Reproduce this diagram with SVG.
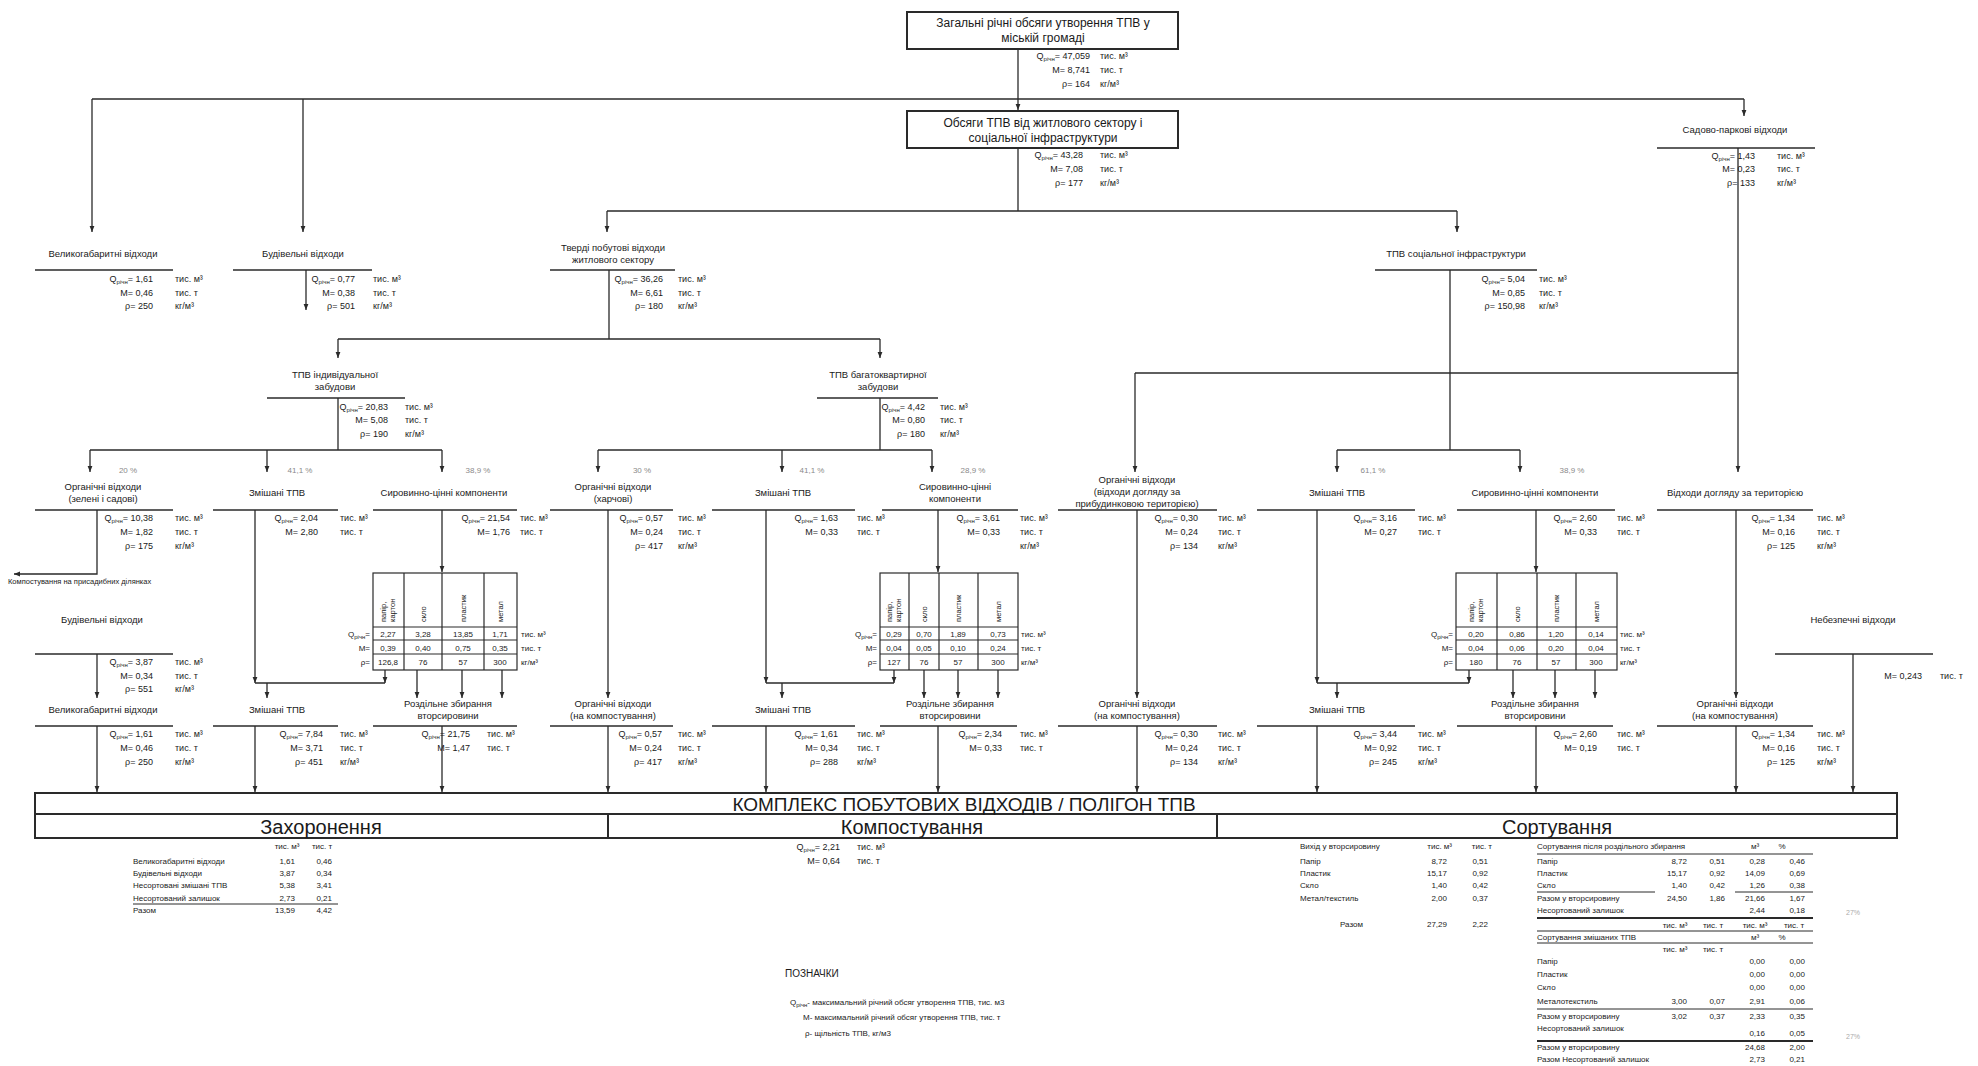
<svg xmlns="http://www.w3.org/2000/svg" width="1978" height="1066" viewBox="0 0 1978 1066">
<style>
text{font-family:'Liberation Sans',Arial,sans-serif;fill:#1a1a1a}
.l{font-size:9.5px;text-anchor:middle}
.s{font-size:9px;text-anchor:end}
.u{font-size:9px}
.sb{font-size:6px}
.p{font-size:8px;fill:#8a8a8a;text-anchor:middle}
.t{font-size:8px;text-anchor:middle}
.th{font-size:7.5px}
.b{font-size:12px;text-anchor:middle}
.c{fill:none;stroke:#2a2a2a;stroke-width:1.3}
.a{marker-end:url(#ar)}
.ul{stroke:#2a2a2a;stroke-width:1.5}
.bx{fill:#fff;stroke:#2a2a2a;stroke-width:2}
.tb{fill:none;stroke:#2a2a2a;stroke-width:1.2}
.k{font-size:8px}
.ke{font-size:8px;text-anchor:end}
.km{font-size:8px;text-anchor:middle}
.big{font-size:19px;text-anchor:middle}
.sec{font-size:20px;text-anchor:middle}
.g{font-size:7px;fill:#aaa;text-anchor:middle}
</style>
<defs>
<marker id="ar" markerWidth="6" markerHeight="6" refX="6" refY="3" orient="auto" markerUnits="userSpaceOnUse"><path d="M0,0.6 L6,3 L0,5.4 z" fill="#2a2a2a"/></marker>
</defs>
<rect width="1978" height="1066" fill="#fff"/>

<g id="connectors">
<path class="c a" d="M1018,49 V110"/>
<path class="c" d="M92,99 H1744"/>
<path class="c a" d="M92,99 V232"/>
<path class="c a" d="M303,99 V232"/>
<path class="c a" d="M1744,99 V116"/>
<path class="c" d="M1018,148 V211 M607,211 H1457"/>
<path class="c a" d="M607,211 V232"/>
<path class="c a" d="M1457,211 V232"/>
<path class="c a" d="M306,270 V310"/>
<path class="c" d="M609,270 V339 M338,339 H880"/>
<path class="c a" d="M338,339 V358"/>
<path class="c a" d="M880,339 V358"/>
<path class="c" d="M338,398 V450 M90,450 H442"/>
<path class="c a" d="M90,450 V472"/>
<path class="c a" d="M267,450 V472"/>
<path class="c a" d="M442,450 V472"/>
<path class="c" d="M880,398 V450 M598,450 H932"/>
<path class="c a" d="M598,450 V472"/>
<path class="c a" d="M782,450 V472"/>
<path class="c a" d="M932,450 V472"/>
<path class="c" d="M1450,270 V450 M1337,450 H1520"/>
<path class="c a" d="M1337,450 V472"/>
<path class="c a" d="M1520,450 V472"/>
<path class="c" d="M1135,373 H1738" />
<path class="c a" d="M1738,148 V472"/>
<path class="c a" d="M1135,373 V472"/>
<path class="c a" d="M97,510 V574 H14"/>
<path class="c a" d="M255,510 V683"/>
<path class="c" d="M255,683 H385"/>
<path class="c a" d="M385,670 V683"/>
<path class="c a" d="M267,683 V698"/>
<path class="c a" d="M442,510 V572"/>
<path class="c a" d="M417,670 V698"/>
<path class="c a" d="M462,670 V698"/>
<path class="c a" d="M502,670 V698"/>
<path class="c a" d="M608,510 V698"/>
<path class="c a" d="M766,510 V683"/>
<path class="c" d="M766,683 H894"/>
<path class="c a" d="M894,670 V683"/>
<path class="c a" d="M782,683 V698"/>
<path class="c a" d="M938,510 V572"/>
<path class="c a" d="M924,670 V698"/>
<path class="c a" d="M958,670 V698"/>
<path class="c a" d="M998,670 V698"/>
<path class="c a" d="M1137,510 V698"/>
<path class="c a" d="M1317,510 V683"/>
<path class="c" d="M1317,683 H1469"/>
<path class="c a" d="M1469,670 V683"/>
<path class="c a" d="M1337,683 V698"/>
<path class="c a" d="M1536,510 V572"/>
<path class="c a" d="M1513,670 V698"/>
<path class="c a" d="M1555,670 V698"/>
<path class="c a" d="M1595,670 V698"/>
<path class="c a" d="M1736,510 V698"/>
<path class="c a" d="M97,654 V698"/>
<path class="c a" d="M97,726 V792"/>
<path class="c a" d="M255,726 V792"/>
<path class="c a" d="M442,726 V792"/>
<path class="c a" d="M608,726 V792"/>
<path class="c a" d="M766,726 V792"/>
<path class="c a" d="M938,726 V792"/>
<path class="c a" d="M1137,726 V792"/>
<path class="c a" d="M1317,726 V792"/>
<path class="c a" d="M1536,726 V792"/>
<path class="c a" d="M1736,726 V792"/>
<path class="c a" d="M1853,654 V792"/>
</g>

<g id="box1">
<rect class="bx" x="907" y="12" width="271" height="37"/>
<text class="b" x="1043" y="27">Загальні річні обсяги утворення ТПВ у</text>
<text class="b" x="1043" y="42">міській громаді</text>
<text class="s" x="1090" y="59">Q<tspan class="sb" dy="2">річн</tspan><tspan dy="-2">= 47,059</tspan></text><text class="u" x="1100" y="59">тис. м³</text>
<text class="s" x="1090" y="73">M= 8,741</text><text class="u" x="1100" y="73">тис. т</text>
<text class="s" x="1090" y="87">ρ= 164</text><text class="u" x="1100" y="87">кг/м³</text>
</g>

<g id="box2">
<rect class="bx" x="907" y="111" width="271" height="37"/>
<text class="b" x="1043" y="127">Обсяги ТПВ від житлового сектору і</text>
<text class="b" x="1043" y="142">соціальної інфраструктури</text>
<text class="s" x="1083" y="158">Q<tspan class="sb" dy="2">річн</tspan><tspan dy="-2">= 43,28</tspan></text><text class="u" x="1100" y="158">тис. м³</text>
<text class="s" x="1083" y="172">M= 7,08</text><text class="u" x="1100" y="172">тис. т</text>
<text class="s" x="1083" y="186">ρ= 177</text><text class="u" x="1100" y="186">кг/м³</text>
</g>

<g id="n-velyko-top">
<text class="l" x="103" y="257">Великогабаритні відходи</text>
<line class="ul" x1="35" y1="270" x2="173" y2="270"/>
<text class="s" x="153" y="282">Q<tspan class="sb" dy="2">річн</tspan><tspan dy="-2">= 1,61</tspan></text><text class="u" x="175" y="282">тис. м³</text>
<text class="s" x="153" y="296">M= 0,46</text><text class="u" x="175" y="296">тис. т</text>
<text class="s" x="153" y="309">ρ= 250</text><text class="u" x="175" y="309">кг/м³</text>
</g>

<g id="n-budiv-top">
<text class="l" x="303" y="257">Будівельні відходи</text>
<line class="ul" x1="233" y1="270" x2="372" y2="270"/>
<text class="s" x="355" y="282">Q<tspan class="sb" dy="2">річн</tspan><tspan dy="-2">= 0,77</tspan></text><text class="u" x="373" y="282">тис. м³</text>
<text class="s" x="355" y="296">M= 0,38</text><text class="u" x="373" y="296">тис. т</text>
<text class="s" x="355" y="309">ρ= 501</text><text class="u" x="373" y="309">кг/м³</text>
</g>

<g id="n-tpv-zhytl">
<text class="l" x="613" y="251">Тверді побутові відходи</text>
<text class="l" x="613" y="263">житлового сектору</text>
<line class="ul" x1="550" y1="270" x2="675" y2="270"/>
<text class="s" x="663" y="282">Q<tspan class="sb" dy="2">річн</tspan><tspan dy="-2">= 36,26</tspan></text><text class="u" x="678" y="282">тис. м³</text>
<text class="s" x="663" y="296">M= 6,61</text><text class="u" x="678" y="296">тис. т</text>
<text class="s" x="663" y="309">ρ= 180</text><text class="u" x="678" y="309">кг/м³</text>
</g>

<g id="n-tpv-soc">
<text class="l" x="1456" y="257">ТПВ соціальної інфраструктури</text>
<line class="ul" x1="1375" y1="270" x2="1537" y2="270"/>
<text class="s" x="1525" y="282">Q<tspan class="sb" dy="2">річн</tspan><tspan dy="-2">= 5,04</tspan></text><text class="u" x="1539" y="282">тис. м³</text>
<text class="s" x="1525" y="296">M= 0,85</text><text class="u" x="1539" y="296">тис. т</text>
<text class="s" x="1525" y="309">ρ= 150,98</text><text class="u" x="1539" y="309">кг/м³</text>
</g>

<g id="n-sadovo">
<text class="l" x="1735" y="133">Садово-паркові відходи</text>
<line class="ul" x1="1657" y1="148" x2="1815" y2="148"/>
<text class="s" x="1755" y="159">Q<tspan class="sb" dy="2">річн</tspan><tspan dy="-2">= 1,43</tspan></text><text class="u" x="1777" y="159">тис. м³</text>
<text class="s" x="1755" y="172">M= 0,23</text><text class="u" x="1777" y="172">тис. т</text>
<text class="s" x="1755" y="186">ρ= 133</text><text class="u" x="1777" y="186">кг/м³</text>
</g>

<g id="n-indiv">
<text class="l" x="335" y="378">ТПВ індивідуальної</text>
<text class="l" x="335" y="390">забудови</text>
<line class="ul" x1="267" y1="398" x2="405" y2="398"/>
<text class="s" x="388" y="410">Q<tspan class="sb" dy="2">річн</tspan><tspan dy="-2">= 20,83</tspan></text><text class="u" x="405" y="410">тис. м³</text>
<text class="s" x="388" y="423">M= 5,08</text><text class="u" x="405" y="423">тис. т</text>
<text class="s" x="388" y="437">ρ= 190</text><text class="u" x="405" y="437">кг/м³</text>
</g>

<g id="n-bagato">
<text class="l" x="878" y="378">ТПВ багатоквартирної</text>
<text class="l" x="878" y="390">забудови</text>
<line class="ul" x1="817" y1="398" x2="938" y2="398"/>
<text class="s" x="925" y="410">Q<tspan class="sb" dy="2">річн</tspan><tspan dy="-2">= 4,42</tspan></text><text class="u" x="940" y="410">тис. м³</text>
<text class="s" x="925" y="423">M= 0,80</text><text class="u" x="940" y="423">тис. т</text>
<text class="s" x="925" y="437">ρ= 180</text><text class="u" x="940" y="437">кг/м³</text>
</g>

<g id="percents">
<text class="p" x="128" y="473">20 %</text>
<text class="p" x="300" y="473">41,1 %</text>
<text class="p" x="478" y="473">38,9 %</text>
<text class="p" x="642" y="473">30 %</text>
<text class="p" x="812" y="473">41,1 %</text>
<text class="p" x="973" y="473">28,9 %</text>
<text class="p" x="1373" y="473">61,1 %</text>
<text class="p" x="1572" y="473">38,9 %</text>
</g>

<g id="n-org-zel">
<text class="l" x="103" y="490">Органічні відходи</text>
<text class="l" x="103" y="502">(зелені і садові)</text>
<line class="ul" x1="35" y1="510" x2="173" y2="510"/>
<text class="s" x="153" y="521">Q<tspan class="sb" dy="2">річн</tspan><tspan dy="-2">= 10,38</tspan></text><text class="u" x="175" y="521">тис. м³</text>
<text class="s" x="153" y="535">M= 1,82</text><text class="u" x="175" y="535">тис. т</text>
<text class="s" x="153" y="549">ρ= 175</text><text class="u" x="175" y="549">кг/м³</text>
<text x="8" y="584" style="font-size:7.5px">Компостування на присадибних ділянках</text>
</g>

<g id="n-zm1">
<text class="l" x="277" y="496">Змішані ТПВ</text>
<line class="ul" x1="213" y1="510" x2="338" y2="510"/>
<text class="s" x="318" y="521">Q<tspan class="sb" dy="2">річн</tspan><tspan dy="-2">= 2,04</tspan></text><text class="u" x="340" y="521">тис. м³</text>
<text class="s" x="318" y="535">M= 2,80</text><text class="u" x="340" y="535">тис. т</text>
</g>

<g id="n-syr1">
<text class="l" x="444" y="496">Сировинно-цінні компоненти</text>
<line class="ul" x1="373" y1="510" x2="517" y2="510"/>
<text class="s" x="510" y="521">Q<tspan class="sb" dy="2">річн</tspan><tspan dy="-2">= 21,54</tspan></text><text class="u" x="520" y="521">тис. м³</text>
<text class="s" x="510" y="535">M= 1,76</text><text class="u" x="520" y="535">тис. т</text>
</g>

<g id="n-org-harch">
<text class="l" x="613" y="490">Органічні відходи</text>
<text class="l" x="613" y="502">(харчові)</text>
<line class="ul" x1="550" y1="510" x2="673" y2="510"/>
<text class="s" x="663" y="521">Q<tspan class="sb" dy="2">річн</tspan><tspan dy="-2">= 0,57</tspan></text><text class="u" x="678" y="521">тис. м³</text>
<text class="s" x="663" y="535">M= 0,24</text><text class="u" x="678" y="535">тис. т</text>
<text class="s" x="663" y="549">ρ= 417</text><text class="u" x="678" y="549">кг/м³</text>
</g>

<g id="n-zm2">
<text class="l" x="783" y="496">Змішані ТПВ</text>
<line class="ul" x1="712" y1="510" x2="855" y2="510"/>
<text class="s" x="838" y="521">Q<tspan class="sb" dy="2">річн</tspan><tspan dy="-2">= 1,63</tspan></text><text class="u" x="857" y="521">тис. м³</text>
<text class="s" x="838" y="535">M= 0,33</text><text class="u" x="857" y="535">тис. т</text>
</g>

<g id="n-syr2">
<text class="l" x="955" y="490">Сировинно-цінні</text>
<text class="l" x="955" y="502">компоненти</text>
<line class="ul" x1="882" y1="510" x2="1018" y2="510"/>
<text class="s" x="1000" y="521">Q<tspan class="sb" dy="2">річн</tspan><tspan dy="-2">= 3,61</tspan></text><text class="u" x="1020" y="521">тис. м³</text>
<text class="s" x="1000" y="535">M= 0,33</text><text class="u" x="1020" y="535">тис. т</text>
<text class="u" x="1020" y="549">кг/м³</text>
</g>

<g id="n-org-dog">
<text class="l" x="1137" y="483">Органічні відходи</text>
<text class="l" x="1137" y="495">(відходи догляду за</text>
<text class="l" x="1137" y="507">прибудинковою територією)</text>
<line class="ul" x1="1058" y1="510" x2="1217" y2="510"/>
<text class="s" x="1198" y="521">Q<tspan class="sb" dy="2">річн</tspan><tspan dy="-2">= 0,30</tspan></text><text class="u" x="1218" y="521">тис. м³</text>
<text class="s" x="1198" y="535">M= 0,24</text><text class="u" x="1218" y="535">тис. т</text>
<text class="s" x="1198" y="549">ρ= 134</text><text class="u" x="1218" y="549">кг/м³</text>
</g>

<g id="n-zm3">
<text class="l" x="1337" y="496">Змішані ТПВ</text>
<line class="ul" x1="1257" y1="510" x2="1415" y2="510"/>
<text class="s" x="1397" y="521">Q<tspan class="sb" dy="2">річн</tspan><tspan dy="-2">= 3,16</tspan></text><text class="u" x="1418" y="521">тис. м³</text>
<text class="s" x="1397" y="535">M= 0,27</text><text class="u" x="1418" y="535">тис. т</text>
</g>

<g id="n-syr3">
<text class="l" x="1535" y="496">Сировинно-цінні компоненти</text>
<line class="ul" x1="1457" y1="510" x2="1615" y2="510"/>
<text class="s" x="1597" y="521">Q<tspan class="sb" dy="2">річн</tspan><tspan dy="-2">= 2,60</tspan></text><text class="u" x="1617" y="521">тис. м³</text>
<text class="s" x="1597" y="535">M= 0,33</text><text class="u" x="1617" y="535">тис. т</text>
</g>

<g id="n-vidkh-dog">
<text class="l" x="1735" y="496">Відходи догляду за територією</text>
<line class="ul" x1="1657" y1="510" x2="1813" y2="510"/>
<text class="s" x="1795" y="521">Q<tspan class="sb" dy="2">річн</tspan><tspan dy="-2">= 1,34</tspan></text><text class="u" x="1817" y="521">тис. м³</text>
<text class="s" x="1795" y="535">M= 0,16</text><text class="u" x="1817" y="535">тис. т</text>
<text class="s" x="1795" y="549">ρ= 125</text><text class="u" x="1817" y="549">кг/м³</text>
</g>

<g id="table1">
<rect class="tb" x="373" y="573" width="144" height="97"/>
<path class="tb" d="M373,627 H517 M373,640 H517 M373,654 H517 M404,573 V670 M442,573 V670 M484,573 V670"/>
<text class="th" transform="translate(386,622) rotate(-90)">папір,</text>
<text class="th" transform="translate(395,622) rotate(-90)">картон</text>
<text class="th" transform="translate(426,622) rotate(-90)">скло</text>
<text class="th" transform="translate(466,622) rotate(-90)">пластик</text>
<text class="th" transform="translate(503,622) rotate(-90)">метал</text>
<text class="s" x="370" y="637" style="font-size:8px">Q<tspan class="sb" dy="2">річн</tspan><tspan dy="-2">=</tspan></text>
<text class="s" x="370" y="651" style="font-size:8px">M=</text>
<text class="s" x="370" y="665" style="font-size:8px">ρ=</text>
<text class="t" x="388" y="637">2,27</text><text class="t" x="423" y="637">3,28</text><text class="t" x="463" y="637">13,85</text><text class="t" x="500" y="637">1,71</text>
<text class="t" x="388" y="651">0,39</text><text class="t" x="423" y="651">0,40</text><text class="t" x="463" y="651">0,75</text><text class="t" x="500" y="651">0,35</text>
<text class="t" x="388" y="665">126,8</text><text class="t" x="423" y="665">76</text><text class="t" x="463" y="665">57</text><text class="t" x="500" y="665">300</text>
<text class="k" x="521" y="637">тис. м³</text><text class="k" x="521" y="651">тис. т</text><text class="k" x="521" y="665">кг/м³</text>
</g>

<g id="table2">
<rect class="tb" x="880" y="573" width="138" height="97"/>
<path class="tb" d="M880,627 H1018 M880,640 H1018 M880,654 H1018 M909,573 V670 M939,573 V670 M978,573 V670"/>
<text class="th" transform="translate(892,622) rotate(-90)">папір,</text>
<text class="th" transform="translate(901,622) rotate(-90)">картон</text>
<text class="th" transform="translate(927,622) rotate(-90)">скло</text>
<text class="th" transform="translate(961,622) rotate(-90)">пластик</text>
<text class="th" transform="translate(1001,622) rotate(-90)">метал</text>
<text class="s" x="877" y="637" style="font-size:8px">Q<tspan class="sb" dy="2">річн</tspan><tspan dy="-2">=</tspan></text>
<text class="s" x="877" y="651" style="font-size:8px">M=</text>
<text class="s" x="877" y="665" style="font-size:8px">ρ=</text>
<text class="t" x="894" y="637">0,29</text><text class="t" x="924" y="637">0,70</text><text class="t" x="958" y="637">1,89</text><text class="t" x="998" y="637">0,73</text>
<text class="t" x="894" y="651">0,04</text><text class="t" x="924" y="651">0,05</text><text class="t" x="958" y="651">0,10</text><text class="t" x="998" y="651">0,24</text>
<text class="t" x="894" y="665">127</text><text class="t" x="924" y="665">76</text><text class="t" x="958" y="665">57</text><text class="t" x="998" y="665">300</text>
<text class="k" x="1021" y="637">тис. м³</text><text class="k" x="1021" y="651">тис. т</text><text class="k" x="1021" y="665">кг/м³</text>
</g>

<g id="table3">
<rect class="tb" x="1456" y="573" width="161" height="97"/>
<path class="tb" d="M1456,627 H1617 M1456,640 H1617 M1456,654 H1617 M1497,573 V670 M1537,573 V670 M1576,573 V670"/>
<text class="th" transform="translate(1474,622) rotate(-90)">папір,</text>
<text class="th" transform="translate(1483,622) rotate(-90)">картон</text>
<text class="th" transform="translate(1520,622) rotate(-90)">скло</text>
<text class="th" transform="translate(1559,622) rotate(-90)">пластик</text>
<text class="th" transform="translate(1599,622) rotate(-90)">метал</text>
<text class="s" x="1453" y="637" style="font-size:8px">Q<tspan class="sb" dy="2">річн</tspan><tspan dy="-2">=</tspan></text>
<text class="s" x="1453" y="651" style="font-size:8px">M=</text>
<text class="s" x="1453" y="665" style="font-size:8px">ρ=</text>
<text class="t" x="1476" y="637">0,20</text><text class="t" x="1517" y="637">0,86</text><text class="t" x="1556" y="637">1,20</text><text class="t" x="1596" y="637">0,14</text>
<text class="t" x="1476" y="651">0,04</text><text class="t" x="1517" y="651">0,06</text><text class="t" x="1556" y="651">0,20</text><text class="t" x="1596" y="651">0,04</text>
<text class="t" x="1476" y="665">180</text><text class="t" x="1517" y="665">76</text><text class="t" x="1556" y="665">57</text><text class="t" x="1596" y="665">300</text>
<text class="k" x="1620" y="637">тис. м³</text><text class="k" x="1620" y="651">тис. т</text><text class="k" x="1620" y="665">кг/м³</text>
</g>

<g id="n-budiv2">
<text class="l" x="102" y="623">Будівельні відходи</text>
<line class="ul" x1="35" y1="654" x2="173" y2="654"/>
<text class="s" x="153" y="665">Q<tspan class="sb" dy="2">річн</tspan><tspan dy="-2">= 3,87</tspan></text><text class="u" x="175" y="665">тис. м³</text>
<text class="s" x="153" y="679">M= 0,34</text><text class="u" x="175" y="679">тис. т</text>
<text class="s" x="153" y="692">ρ= 551</text><text class="u" x="175" y="692">кг/м³</text>
</g>

<g id="n-nebezp">
<text class="l" x="1853" y="623">Небезпечні відходи</text>
<line class="ul" x1="1775" y1="654" x2="1933" y2="654"/>
<text class="s" x="1922" y="679">M= 0,243</text><text class="u" x="1940" y="679">тис. т</text>
</g>

<g id="n-velyko2">
<text class="l" x="103" y="713">Великогабаритні відходи</text>
<line class="ul" x1="35" y1="726" x2="173" y2="726"/>
<text class="s" x="153" y="737">Q<tspan class="sb" dy="2">річн</tspan><tspan dy="-2">= 1,61</tspan></text><text class="u" x="175" y="737">тис. м³</text>
<text class="s" x="153" y="751">M= 0,46</text><text class="u" x="175" y="751">тис. т</text>
<text class="s" x="153" y="765">ρ= 250</text><text class="u" x="175" y="765">кг/м³</text>
</g>

<g id="n-zm1b">
<text class="l" x="277" y="713">Змішані ТПВ</text>
<line class="ul" x1="213" y1="726" x2="338" y2="726"/>
<text class="s" x="323" y="737">Q<tspan class="sb" dy="2">річн</tspan><tspan dy="-2">= 7,84</tspan></text><text class="u" x="340" y="737">тис. м³</text>
<text class="s" x="323" y="751">M= 3,71</text><text class="u" x="340" y="751">тис. т</text>
<text class="s" x="323" y="765">ρ= 451</text><text class="u" x="340" y="765">кг/м³</text>
</g>

<g id="n-rozd1">
<text class="l" x="448" y="707">Роздільне збирання</text>
<text class="l" x="448" y="719">вторсировини</text>
<line class="ul" x1="373" y1="726" x2="517" y2="726"/>
<text class="s" x="470" y="737">Q<tspan class="sb" dy="2">річн</tspan><tspan dy="-2">= 21,75</tspan></text><text class="u" x="487" y="737">тис. м³</text>
<text class="s" x="470" y="751">M= 1,47</text><text class="u" x="487" y="751">тис. т</text>
</g>

<g id="n-org2b">
<text class="l" x="613" y="707">Органічні відходи</text>
<text class="l" x="613" y="719">(на компостування)</text>
<line class="ul" x1="550" y1="726" x2="673" y2="726"/>
<text class="s" x="662" y="737">Q<tspan class="sb" dy="2">річн</tspan><tspan dy="-2">= 0,57</tspan></text><text class="u" x="678" y="737">тис. м³</text>
<text class="s" x="662" y="751">M= 0,24</text><text class="u" x="678" y="751">тис. т</text>
<text class="s" x="662" y="765">ρ= 417</text><text class="u" x="678" y="765">кг/м³</text>
</g>

<g id="n-zm2b">
<text class="l" x="783" y="713">Змішані ТПВ</text>
<line class="ul" x1="712" y1="726" x2="855" y2="726"/>
<text class="s" x="838" y="737">Q<tspan class="sb" dy="2">річн</tspan><tspan dy="-2">= 1,61</tspan></text><text class="u" x="857" y="737">тис. м³</text>
<text class="s" x="838" y="751">M= 0,34</text><text class="u" x="857" y="751">тис. т</text>
<text class="s" x="838" y="765">ρ= 288</text><text class="u" x="857" y="765">кг/м³</text>
</g>

<g id="n-rozd2">
<text class="l" x="950" y="707">Роздільне збирання</text>
<text class="l" x="950" y="719">вторсировини</text>
<line class="ul" x1="880" y1="726" x2="1017" y2="726"/>
<text class="s" x="1002" y="737">Q<tspan class="sb" dy="2">річн</tspan><tspan dy="-2">= 2,34</tspan></text><text class="u" x="1020" y="737">тис. м³</text>
<text class="s" x="1002" y="751">M= 0,33</text><text class="u" x="1020" y="751">тис. т</text>
</g>

<g id="n-org3b">
<text class="l" x="1137" y="707">Органічні відходи</text>
<text class="l" x="1137" y="719">(на компостування)</text>
<line class="ul" x1="1058" y1="726" x2="1217" y2="726"/>
<text class="s" x="1198" y="737">Q<tspan class="sb" dy="2">річн</tspan><tspan dy="-2">= 0,30</tspan></text><text class="u" x="1218" y="737">тис. м³</text>
<text class="s" x="1198" y="751">M= 0,24</text><text class="u" x="1218" y="751">тис. т</text>
<text class="s" x="1198" y="765">ρ= 134</text><text class="u" x="1218" y="765">кг/м³</text>
</g>

<g id="n-zm3b">
<text class="l" x="1337" y="713">Змішані ТПВ</text>
<line class="ul" x1="1257" y1="726" x2="1415" y2="726"/>
<text class="s" x="1397" y="737">Q<tspan class="sb" dy="2">річн</tspan><tspan dy="-2">= 3,44</tspan></text><text class="u" x="1418" y="737">тис. м³</text>
<text class="s" x="1397" y="751">M= 0,92</text><text class="u" x="1418" y="751">тис. т</text>
<text class="s" x="1397" y="765">ρ= 245</text><text class="u" x="1418" y="765">кг/м³</text>
</g>

<g id="n-rozd3">
<text class="l" x="1535" y="707">Роздільне збирання</text>
<text class="l" x="1535" y="719">вторсировини</text>
<line class="ul" x1="1457" y1="726" x2="1613" y2="726"/>
<text class="s" x="1597" y="737">Q<tspan class="sb" dy="2">річн</tspan><tspan dy="-2">= 2,60</tspan></text><text class="u" x="1617" y="737">тис. м³</text>
<text class="s" x="1597" y="751">M= 0,19</text><text class="u" x="1617" y="751">тис. т</text>
</g>

<g id="n-org4b">
<text class="l" x="1735" y="707">Органічні відходи</text>
<text class="l" x="1735" y="719">(на компостування)</text>
<line class="ul" x1="1657" y1="726" x2="1813" y2="726"/>
<text class="s" x="1795" y="737">Q<tspan class="sb" dy="2">річн</tspan><tspan dy="-2">= 1,34</tspan></text><text class="u" x="1817" y="737">тис. м³</text>
<text class="s" x="1795" y="751">M= 0,16</text><text class="u" x="1817" y="751">тис. т</text>
<text class="s" x="1795" y="765">ρ= 125</text><text class="u" x="1817" y="765">кг/м³</text>
</g>

<g id="complex">
<rect x="35" y="793" width="1862" height="45" fill="#fff" stroke="#2a2a2a" stroke-width="2"/>
<path d="M35,814 H1897 M608,814 V838 M1217,814 V838" stroke="#2a2a2a" stroke-width="2" fill="none"/>
<text class="big" x="964" y="811">КОМПЛЕКС ПОБУТОВИХ ВІДХОДІВ / ПОЛІГОН ТПВ</text>
<text class="sec" x="321" y="834">Захоронення</text>
<text class="sec" x="912" y="834">Компостування</text>
<text class="sec" x="1557" y="834">Сортування</text>
</g>

<g id="zakhoronennia">
<text class="km" x="287" y="849">тис. м³</text><text class="km" x="322" y="849">тис. т</text>
<text class="k" x="133" y="864">Великогабаритні відходи</text><text class="ke" x="295" y="864">1,61</text><text class="ke" x="332" y="864">0,46</text>
<text class="k" x="133" y="876">Будівельні відходи</text><text class="ke" x="295" y="876">3,87</text><text class="ke" x="332" y="876">0,34</text>
<text class="k" x="133" y="888">Несортовані змішані ТПВ</text><text class="ke" x="295" y="888">5,38</text><text class="ke" x="332" y="888">3,41</text>
<text class="k" x="133" y="901">Несортований залишок</text><text class="ke" x="295" y="901">2,73</text><text class="ke" x="332" y="901">0,21</text>
<line x1="133" y1="904" x2="338" y2="904" stroke="#2a2a2a" stroke-width="1"/>
<text class="k" x="133" y="913">Разом</text><text class="ke" x="295" y="913">13,59</text><text class="ke" x="332" y="913">4,42</text>
</g>

<g id="kompost">
<text class="s" x="840" y="850">Q<tspan class="sb" dy="2">річн</tspan><tspan dy="-2">= 2,21</tspan></text><text class="u" x="857" y="850">тис. м³</text>
<text class="s" x="840" y="864">M= 0,64</text><text class="u" x="857" y="864">тис. т</text>
</g>

<g id="legend">
<text x="785" y="977" style="font-size:10px">ПОЗНАЧКИ</text>
<text class="k" x="790" y="1005">Q<tspan class="sb" dy="2">річн</tspan><tspan dy="-2">- максимальний річний обсяг утворення ТПВ, тис. м3</tspan></text>
<text class="k" x="803" y="1020">M- максимальний річний обсяг утворення ТПВ, тис. т</text>
<text class="k" x="805" y="1036">ρ- щільність ТПВ, кг/м3</text>
</g>

<g id="sort-left">
<text class="k" x="1300" y="849">Вихід у вторсировину</text><text class="ke" x="1452" y="849">тис. м³</text><text class="ke" x="1492" y="849">тис. т</text>
<text class="k" x="1300" y="864">Папір</text><text class="ke" x="1447" y="864">8,72</text><text class="ke" x="1488" y="864">0,51</text>
<text class="k" x="1300" y="876">Пластик</text><text class="ke" x="1447" y="876">15,17</text><text class="ke" x="1488" y="876">0,92</text>
<text class="k" x="1300" y="888">Скло</text><text class="ke" x="1447" y="888">1,40</text><text class="ke" x="1488" y="888">0,42</text>
<text class="k" x="1300" y="901">Метал/текстиль</text><text class="ke" x="1447" y="901">2,00</text><text class="ke" x="1488" y="901">0,37</text>
<text class="k" x="1340" y="927">Разом</text><text class="ke" x="1447" y="927">27,29</text><text class="ke" x="1488" y="927">2,22</text>
</g>

<g id="sort-right">
<text class="k" x="1537" y="849">Сортування після роздільного збирання</text><text class="km" x="1755" y="849">м³</text><text class="km" x="1782" y="849">%</text>
<path d="M1537,854 H1813 M1537,892 H1655 M1735,892 H1813 M1537,931 H1813 M1537,943 H1813 M1537,1009 H1813" stroke="#2a2a2a" stroke-width="1" fill="none"/>
<path d="M1537,918 H1813 M1537,1041 H1813" stroke="#2a2a2a" stroke-width="2" fill="none"/>
<text class="k" x="1537" y="864">Папір</text><text class="ke" x="1687" y="864">8,72</text><text class="ke" x="1725" y="864">0,51</text><text class="ke" x="1765" y="864">0,28</text><text class="ke" x="1805" y="864">0,46</text>
<text class="k" x="1537" y="876">Пластик</text><text class="ke" x="1687" y="876">15,17</text><text class="ke" x="1725" y="876">0,92</text><text class="ke" x="1765" y="876">14,09</text><text class="ke" x="1805" y="876">0,69</text>
<text class="k" x="1537" y="888">Скло</text><text class="ke" x="1687" y="888">1,40</text><text class="ke" x="1725" y="888">0,42</text><text class="ke" x="1765" y="888">1,26</text><text class="ke" x="1805" y="888">0,38</text>
<text class="k" x="1537" y="901">Разом у вторсировину</text><text class="ke" x="1687" y="901">24,50</text><text class="ke" x="1725" y="901">1,86</text><text class="ke" x="1765" y="901">21,66</text><text class="ke" x="1805" y="901">1,67</text>
<text class="k" x="1537" y="913">Несортований залишок</text><text class="ke" x="1765" y="913">2,44</text><text class="ke" x="1805" y="913">0,18</text>
<text class="km" x="1675" y="928">тис. м³</text><text class="km" x="1713" y="928">тис. т</text><text class="km" x="1755" y="928">тис. м³</text><text class="km" x="1794" y="928">тис. т</text>
<text class="k" x="1537" y="940">Сортування змішаних ТПВ</text><text class="km" x="1755" y="940">м³</text><text class="km" x="1782" y="940">%</text>
<text class="km" x="1675" y="952">тис. м³</text><text class="km" x="1713" y="952">тис. т</text>
<text class="k" x="1537" y="964">Папір</text><text class="ke" x="1765" y="964">0,00</text><text class="ke" x="1805" y="964">0,00</text>
<text class="k" x="1537" y="977">Пластик</text><text class="ke" x="1765" y="977">0,00</text><text class="ke" x="1805" y="977">0,00</text>
<text class="k" x="1537" y="990">Скло</text><text class="ke" x="1765" y="990">0,00</text><text class="ke" x="1805" y="990">0,00</text>
<text class="k" x="1537" y="1004">Металотекстиль</text><text class="ke" x="1687" y="1004">3,00</text><text class="ke" x="1725" y="1004">0,07</text><text class="ke" x="1765" y="1004">2,91</text><text class="ke" x="1805" y="1004">0,06</text>
<text class="k" x="1537" y="1019">Разом у вторсировину</text><text class="ke" x="1687" y="1019">3,02</text><text class="ke" x="1725" y="1019">0,37</text><text class="ke" x="1765" y="1019">2,33</text><text class="ke" x="1805" y="1019">0,35</text>
<text class="k" x="1537" y="1031">Несортований залишок</text><text class="ke" x="1765" y="1036">0,16</text><text class="ke" x="1805" y="1036">0,05</text>
<text class="k" x="1537" y="1050">Разом у вторсировину</text><text class="ke" x="1765" y="1050">24,68</text><text class="ke" x="1805" y="1050">2,00</text>
<text class="k" x="1537" y="1062">Разом Несортований залишок</text><text class="ke" x="1765" y="1062">2,73</text><text class="ke" x="1805" y="1062">0,21</text>
<text class="g" x="1853" y="915">27%</text>
<text class="g" x="1853" y="1039">27%</text>
</g>
</svg>
